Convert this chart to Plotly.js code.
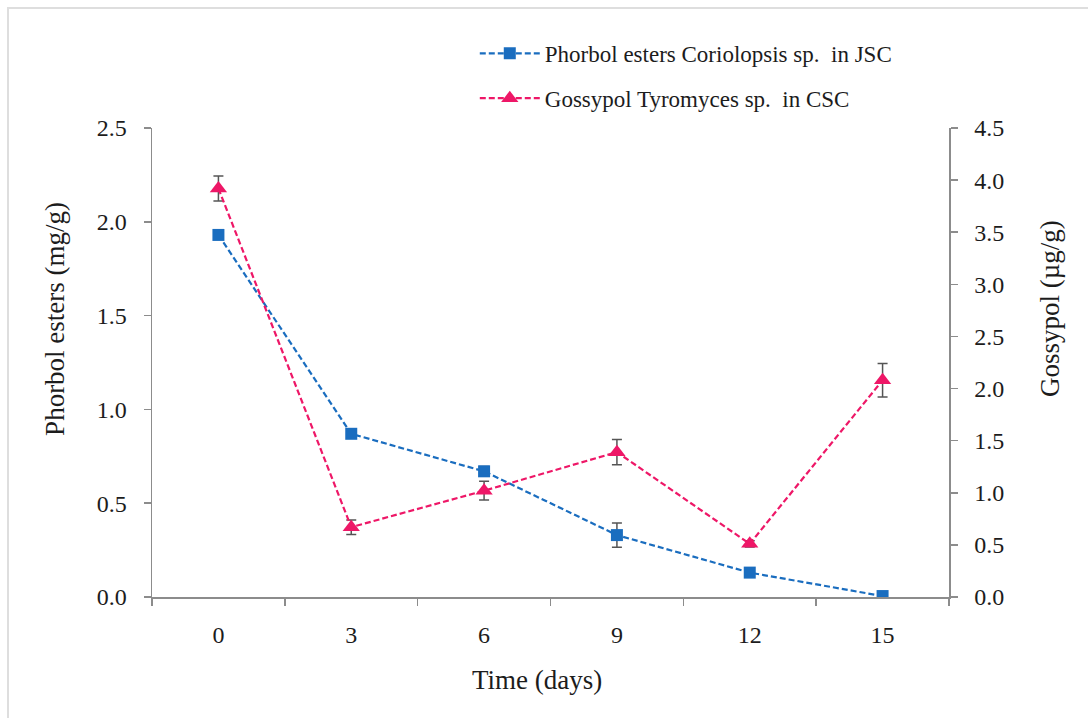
<!DOCTYPE html>
<html>
<head>
<meta charset="utf-8">
<script src="https://cdn.plot.ly/plotly-3.0.1.min.js"></script>
<style>
  html, body { margin: 0; padding: 0; background: #fff; }
  #wrap { position: relative; width: 1088px; height: 718px; }
  #frame { position: absolute; left: 7px; top: 7px; right: -10px; bottom: -10px; border-top: 2px solid #dedede; border-left: 2px solid #dedede; pointer-events: none; z-index: 5; }
  #chart { width: 1088px; height: 718px; }
</style>
</head>
<body>
<div id="wrap">
  <div id="chart"></div>
  <div id="frame"></div>
</div>
<script>
const days = ['0', '3', '6', '9', '12', '15'];
const phorbolEsters = [1.93, 0.87, 0.67, 0.33, 0.13, 0.005];
const phorbolErr = [0.02, 0.015, 0.025, 0.065, 0.015, 0.01];
const gossypol = [3.92, 0.67, 1.02, 1.39, 0.51, 2.08];
const gossypolErr = [0.12, 0.07, 0.09, 0.12, 0.03, 0.16];

const seriesNames = ['Phorbol esters Coriolopsis sp.  in JSC', 'Gossypol Tyromyces sp.  in CSC'];
const leftTicks = [0, 0.5, 1.0, 1.5, 2.0, 2.5];
const rightTicks = [0, 0.5, 1.0, 1.5, 2.0, 2.5, 3.0, 3.5, 4.0, 4.5];
const xTitle = 'Time (days)';
const yTitle = 'Phorbol esters (mg/g)';
const y2Title = 'Gossypol (µg/g)';

const blue = '#1a6dbf';
const pink = '#ee1767';
const serif = 'Liberation Serif, Times New Roman, serif';
const txt = '#1c1c1c';

const traces = [
  {
    x: days, y: phorbolEsters, name: seriesNames[0], type: 'scatter', mode: 'lines+markers',
    yaxis: 'y', legendgroup: 'a',
    line: { color: blue, width: 2.2, dash: '6px,3px' },
    marker: { symbol: 'square', size: 12, color: blue },
    error_y: { type: 'data', array: phorbolErr, visible: true, color: '#555', thickness: 1.5, width: 5 }
  },
  {
    x: days, y: gossypol, name: seriesNames[1], type: 'scatter', mode: 'lines+markers',
    yaxis: 'y2', legendgroup: 'b',
    line: { color: pink, width: 2.2, dash: '6px,3px' },
    marker: { symbol: 'triangle-up', size: 15, color: pink },
    error_y: { type: 'data', array: gossypolErr, visible: true, color: '#555', thickness: 1.5, width: 5 }
  }
];

const axisLine = { showline: true, linecolor: '#8c8c8c', linewidth: 1.5, zeroline: false, showgrid: false };

const layout = {
  width: 1088, height: 718,
  margin: { l: 152, r: 139, t: 128, b: 121 },
  paper_bgcolor: '#fff', plot_bgcolor: '#fff',
  font: { family: serif, size: 24, color: txt },
  showlegend: true,
  legend: {
    x: 0.405, xanchor: 'left', y: 1.205, yanchor: 'top',
    font: { family: serif, size: 23, color: txt },
    traceorder: 'grouped', tracegroupgap: 12, itemwidth: 60,
    bgcolor: 'rgba(0,0,0,0)'
  },
  xaxis: Object.assign({}, axisLine, {
    type: 'category', categoryorder: 'array', categoryarray: days, range: [-0.5, 5.5],
    tickson: 'boundaries', ticks: 'outside', ticklen: 7, tickcolor: '#8c8c8c', tickwidth: 1.5,
    ticklabelstandoff: 16,
    tickfont: { family: serif, size: 24, color: txt }
  }),
  yaxis: Object.assign({}, axisLine, {
    range: [0, 2.5], tickvals: leftTicks, tickformat: '.1f',
    ticks: 'outside', ticklen: 7, tickcolor: '#8c8c8c', tickwidth: 1.5,
    ticklabelstandoff: 12,
    tickfont: { family: serif, size: 24, color: txt }
  }),
  yaxis2: Object.assign({}, axisLine, {
    overlaying: 'y', side: 'right',
    range: [0, 4.5], tickvals: rightTicks, tickformat: '.1f',
    ticks: 'outside', ticklen: 7, tickcolor: '#8c8c8c', tickwidth: 1.5,
    ticklabelstandoff: 12,
    tickfont: { family: serif, size: 24, color: txt }
  }),
  annotations: [
    { text: xTitle, xref: 'paper', yref: 'paper', x: 0.483, y: -0.177, xanchor: 'center', yanchor: 'middle',
      showarrow: false, font: { family: serif, size: 27, color: txt } },
    { text: yTitle, xref: 'paper', yref: 'paper', x: -0.1217, y: 0.593, xanchor: 'center', yanchor: 'middle',
      textangle: -90, showarrow: false, font: { family: serif, size: 27, color: txt } },
    { text: y2Title, xref: 'paper', yref: 'paper', x: 1.1267, y: 0.616, xanchor: 'center', yanchor: 'middle',
      textangle: -90, showarrow: false, font: { family: serif, size: 27, color: txt } }
  ]
};

Plotly.newPlot('chart', traces, layout, { displayModeBar: false, staticPlot: true });
</script>
</body>
</html>
